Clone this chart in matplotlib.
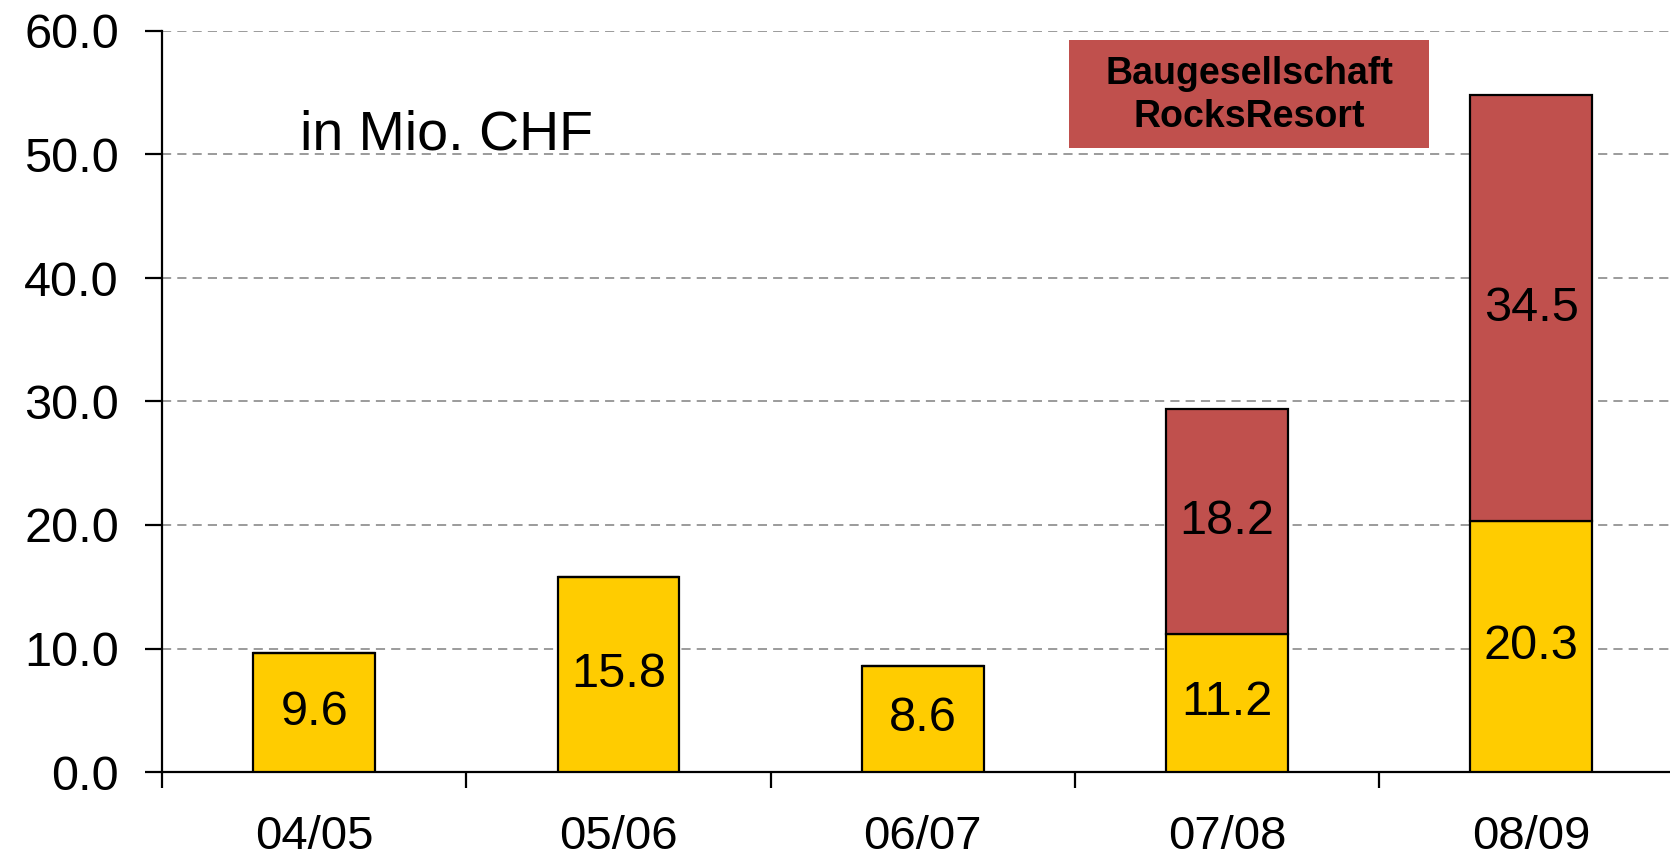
import matplotlib.pyplot as plt
from matplotlib.patches import Rectangle
import numpy as np

# --- data ---
years = ['04/05', '05/06', '06/07', '07/08', '08/09']
base_values = [9.6, 15.8, 8.6, 11.2, 20.3]          # yellow part
rocksresort_values = [0.0, 0.0, 0.0, 18.2, 34.5]     # Baugesellschaft RocksResort
y_ticks = [0, 10, 20, 30, 40, 50, 60]

YELLOW = '#FFCC00'
RED = '#C0504D'

plt.rcParams['font.family'] = ['Liberation Sans', 'DejaVu Sans']

fig = plt.figure(figsize=(16.7, 8.63), dpi=100)
ax = fig.add_axes([162 / 1670, 91 / 863, 1521.5 / 1670, 741 / 863])

x = np.arange(len(years))
width = 0.4

ax.bar(x, base_values, width, color=YELLOW, edgecolor='black', linewidth=1.6, zorder=3)
ax.bar(x, rocksresort_values, width, bottom=base_values, color=RED,
       edgecolor='black', linewidth=1.6, zorder=3)

# value labels in the middle of each segment
for i in range(len(years)):
    ax.text(x[i], base_values[i] / 2, f'{base_values[i]:.1f}', ha='center',
            va='center', fontsize=35, zorder=4)
    if rocksresort_values[i] > 0:
        ax.text(x[i], base_values[i] + rocksresort_values[i] / 2,
                f'{rocksresort_values[i]:.1f}', ha='center', va='center',
                fontsize=35, zorder=4)

# axes
ax.set_xlim(-0.5, len(years) - 0.5)
ax.set_ylim(0, 60)
ax.set_yticks(y_ticks)
ax.set_yticklabels([f'{v:.1f}' for v in y_ticks])
ax.set_xticks(x)
ax.set_xticklabels(years)
ax.set_xticks(np.arange(-0.5, len(years), 1.0), minor=True)

ax.tick_params(axis='y', direction='out', length=12, width=1.6, pad=19, labelsize=35)
ax.tick_params(axis='x', which='major', length=0, pad=31, labelsize=34)
ax.tick_params(axis='x', which='minor', direction='out', length=11.5, width=1.6)

for side in ['top', 'right']:
    ax.spines[side].set_visible(False)
for side in ['left', 'bottom']:
    ax.spines[side].set_linewidth(1.6)

# dashed grid, not on the zero line
ax.set_axisbelow(True)
for v in y_ticks[1:]:
    ax.axhline(v, color='#808080', linewidth=1.1, linestyle=(0, (6, 4)), zorder=1)

ax.text(-0.045, 51.5, 'in Mio. CHF', fontsize=40, ha='left', va='center')

# legend box
ax.add_patch(Rectangle((0.596, 0.842), 0.237, 0.146, transform=ax.transAxes,
                       facecolor=RED, edgecolor='none', zorder=5, clip_on=False))
ax.text(0.7145, 0.913, 'Baugesellschaft\nRocksResort', transform=ax.transAxes,
        ha='center', va='center', fontsize=27, fontweight='bold',
        linespacing=1.25, zorder=6)

fig.savefig('out.png', dpi=100)
